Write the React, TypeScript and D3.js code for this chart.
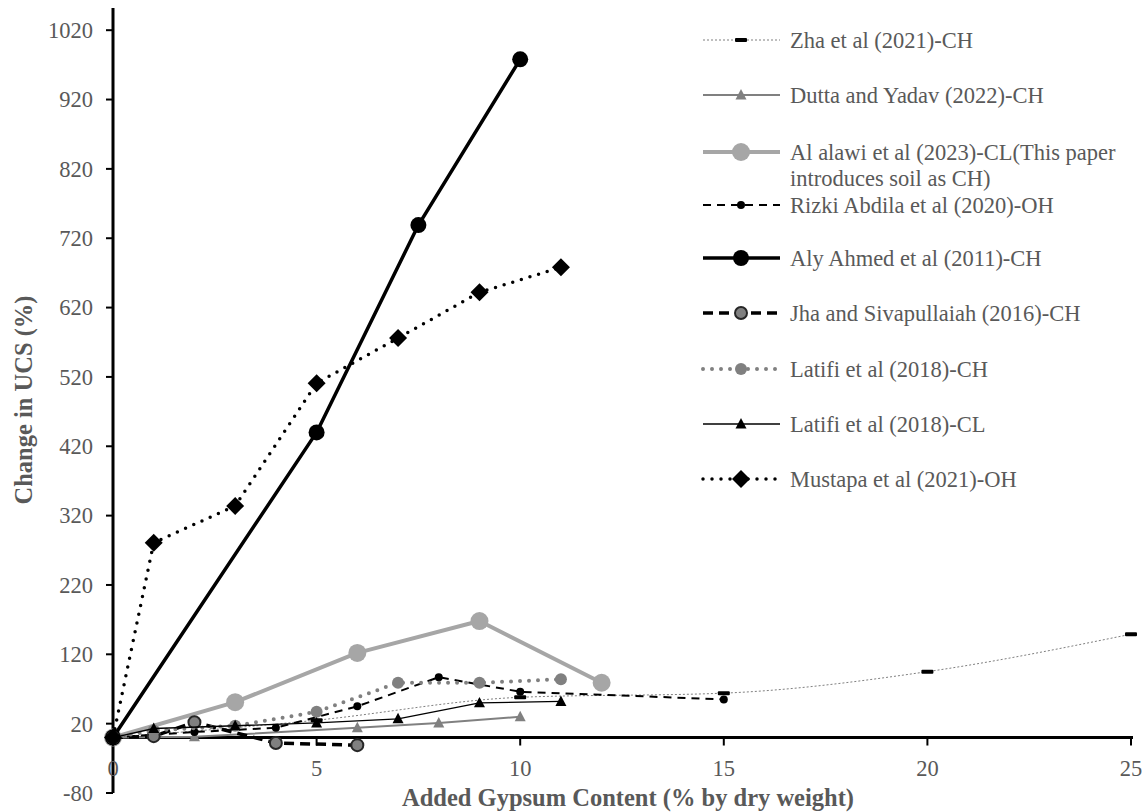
import React from "react";
import * as d3 from "d3";

// Gypsum content (% by dry weight) and change in UCS (%) per study
const zhaX = [0, 5, 10, 15, 20, 25];
const zhaY = [0, 25, 58, 64, 95, 149];
const duttaX = [0, 2, 6, 8, 10];
const duttaY = [0, 1, 14, 21, 30];
const alawiX = [0, 3, 6, 9, 12];
const alawiY = [0, 51, 122, 168, 79];
const rizkiX = [0, 2, 4, 6, 8, 10, 15];
const rizkiY = [0, 8, 14, 45, 87, 66, 55];
const alyX = [0, 5, 7.5, 10];
const alyY = [0, 440, 739, 978];
const jhaX = [0, 1, 2, 4, 6];
const jhaY = [0, 2, 22, -8, -11];
const latifiChX = [0, 1, 3, 5, 7, 9, 11];
const latifiChY = [0, 10, 17, 37, 79, 79, 84];
const latifiClX = [0, 1, 3, 5, 7, 9, 11];
const latifiClY = [0, 13, 17, 21, 27, 50, 52];
const mustapaX = [0, 1, 3, 5, 7, 9, 11];
const mustapaY = [0, 281, 334, 511, 576, 642, 678];

const xTicks = [0, 5, 10, 15, 20, 25];
const yTicks = [-80, 20, 120, 220, 320, 420, 520, 620, 720, 820, 920, 1020];

type Marker = "dash" | "triangle" | "circle" | "diamond";
interface Series {
  name: string[];
  xs: number[];
  ys: number[];
  stroke: string;
  width: number;
  dash?: string;
  cap?: "round" | "butt";
  marker: Marker;
  mSize: number;
  mFill: string;
  mStroke?: string;
  smooth?: boolean;
}

const series: Series[] = [
  { name: ["Zha et al (2021)-CH"], xs: zhaX, ys: zhaY, stroke: "#7f7f7f", width: 1, dash: "2,2", marker: "dash", mSize: 12, mFill: "#000", smooth: true },
  { name: ["Dutta and Yadav (2022)-CH"], xs: duttaX, ys: duttaY, stroke: "#808080", width: 2, marker: "triangle", mSize: 11, mFill: "#808080" },
  { name: ["Al alawi et al (2023)-CL(This paper", "introduces soil as CH)"], xs: alawiX, ys: alawiY, stroke: "#a6a6a6", width: 4, marker: "circle", mSize: 9, mFill: "#a6a6a6" },
  { name: ["Rizki Abdila et al (2020)-OH"], xs: rizkiX, ys: rizkiY, stroke: "#000", width: 2, dash: "8,6", marker: "circle", mSize: 4, mFill: "#000" },
  { name: ["Aly Ahmed et al (2011)-CH"], xs: alyX, ys: alyY, stroke: "#000", width: 3.5, marker: "circle", mSize: 8, mFill: "#000" },
  { name: ["Jha and Sivapullaiah (2016)-CH"], xs: jhaX, ys: jhaY, stroke: "#000", width: 3.5, dash: "10,6", marker: "circle", mSize: 6, mFill: "#808080", mStroke: "#262626" },
  { name: ["Latifi et al (2018)-CH"], xs: latifiChX, ys: latifiChY, stroke: "#808080", width: 4, dash: "0,9", cap: "round", marker: "circle", mSize: 6, mFill: "#808080" },
  { name: ["Latifi et al (2018)-CL"], xs: latifiClX, ys: latifiClY, stroke: "#000", width: 1.3, marker: "triangle", mSize: 11, mFill: "#000" },
  { name: ["Mustapa et al (2021)-OH"], xs: mustapaX, ys: mustapaY, stroke: "#000", width: 3.5, dash: "0,9", cap: "round", marker: "diamond", mSize: 9, mFill: "#000" },
];

const legendY = [40, 95, 152, 205, 258, 313, 369, 424, 479];

const W = 1148;
const H = 812;
const textColor = "#595959";
const font = "Liberation Serif, Times New Roman, DejaVu Serif, serif";
const fs = 22.5;

function MarkerShape({ s, cx, cy }: { s: Series; cx: number; cy: number }) {
  const r = s.mSize;
  if (s.marker === "circle") {
    return <circle cx={cx} cy={cy} r={r} fill={s.mFill} stroke={s.mStroke ?? "none"} strokeWidth={s.mStroke ? 2 : 0} />;
  }
  if (s.marker === "triangle") {
    const h = r * 0.9;
    return <path d={`M${cx},${cy - h * 0.6}L${cx + r / 2},${cy + h * 0.45}L${cx - r / 2},${cy + h * 0.45}Z`} fill={s.mFill} />;
  }
  if (s.marker === "diamond") {
    return <path d={`M${cx},${cy - r}L${cx + r},${cy}L${cx},${cy + r}L${cx - r},${cy}Z`} fill={s.mFill} />;
  }
  return <rect x={cx - r / 2} y={cy - 2} width={r} height={4} rx={1} fill={s.mFill} />;
}

const txt: React.CSSProperties = { fontFamily: font, fontSize: fs, fill: textColor };
const title: React.CSSProperties = { fontFamily: font, fontSize: 24.5, fontWeight: "bold", fill: textColor };

export default function App() {
  const x = d3.scaleLinear().domain([0, 25]).range([113, 1131]);
  const y = d3.scaleLinear().domain([-80, 1052]).range([793, 8]);

  return (
    <svg width={W} height={H} style={{ position: "absolute", left: 0, top: 0, background: "#fff" }}>
      {/* axes */}
      <line x1={x(0)} x2={x(0)} y1={y(1052)} y2={y(-80)} stroke="#000" strokeWidth={3} />
      <line x1={x(0) - 1.5} x2={x(25) + 2} y1={y(0)} y2={y(0)} stroke="#000" strokeWidth={3} />
      {yTicks.map((t) => (
        <g key={`yt${t}`}>
          <line x1={x(0) - 7} x2={x(0)} y1={y(t)} y2={y(t)} stroke="#000" strokeWidth={2} />
          <text x={93} y={y(t)} dy="0.35em" textAnchor="end" style={txt}>{t}</text>
        </g>
      ))}
      {xTicks.map((t) => (
        <g key={`xt${t}`}>
          <line x1={x(t)} x2={x(t)} y1={y(0)} y2={y(0) + 8} stroke="#000" strokeWidth={2} />
          <text x={x(t)} y={768} dy="0.35em" textAnchor="middle" style={txt}>{t}</text>
        </g>
      ))}
      <text x={628} y={797} dy="0.35em" textAnchor="middle" style={title}>
        Added Gypsum Content (% by dry weight)
      </text>
      <text transform={`translate(23,400) rotate(-90)`} dy="0.35em" textAnchor="middle" style={title}>
        Change in UCS (%)
      </text>

      {/* series */}
      {series.map((s, i) => {
        const pts = s.xs.map((v, k) => [x(v), y(s.ys[k])] as [number, number]);
        const line = d3.line().curve(s.smooth ? d3.curveMonotoneX : d3.curveLinear);
        return (
          <g key={`s${i}`}>
            <path d={line(pts) ?? ""} fill="none" stroke={s.stroke} strokeWidth={s.width} strokeDasharray={s.dash} strokeLinecap={s.cap ?? "butt"} strokeLinejoin="round" />
            {pts.map((p, k) => (
              <MarkerShape key={k} s={s} cx={p[0]} cy={p[1]} />
            ))}
          </g>
        );
      })}

      {/* legend */}
      {series.map((s, i) => {
        const ly = legendY[i];
        return (
          <g key={`l${i}`}>
            <line x1={703} x2={780} y1={ly} y2={ly} stroke={s.stroke} strokeWidth={s.width} strokeDasharray={s.dash} strokeLinecap={s.cap ?? "butt"} />
            <MarkerShape s={s} cx={741} cy={ly} />
            {s.name.map((n, k) => (
              <text key={k} x={790} y={ly + k * 26} dy="0.35em" style={txt}>{n}</text>
            ))}
          </g>
        );
      })}
    </svg>
  );
}
